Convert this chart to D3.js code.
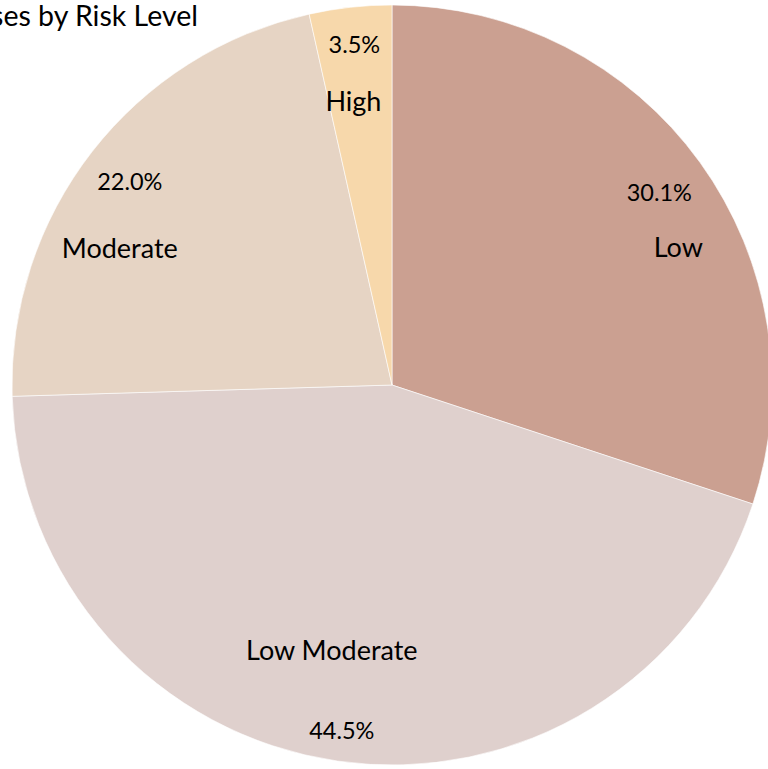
<!DOCTYPE html>
<html><head><meta charset="utf-8">
<script src="https://cdn.jsdelivr.net/npm/d3@7/dist/d3.min.js"></script>
<style>body{margin:0;background:#fff;overflow:hidden}svg{display:block}</style>
</head><body>
<script>
const categories = ["Low", "Low Moderate", "Moderate", "High"];
const values = [30.1, 44.5, 22.0, 3.5];
const pctLabels = ["30.1%", "44.5%", "22.0%", "3.5%"];
const colors = ["#CBA091", "#DFD0CD", "#E6D4C4", "#F7D8AB"];
const title = "Cases by Risk Level";

// layout (positions/styles kept apart from data)
const W = 768, H = 769, cx = 392, cy = 385, R = 380;
const pctRadius = [0.868, 0.918, 0.874, 0.903];
const catOffset = [[19, 55], [-10, -81], [-10, 66], [-1, 57]];

const svg = d3.select("body").append("svg").attr("width", W).attr("height", H);
const g = svg.append("g").attr("transform", `translate(${cx},${cy})`);

const pie = d3.pie().sort(null).value(d => d);
const arcs = pie(values);
const arc = d3.arc().innerRadius(0).outerRadius(R);

g.selectAll("path").data(arcs).join("path")
  .attr("d", arc)
  .attr("fill", (d, i) => colors[i])
  .attr("stroke", "#ffffff").attr("stroke-width", 1).attr("stroke-opacity", 0.6);

const font = "Lato, 'Open Sans', sans-serif";
arcs.forEach((d, i) => {
  const la = d3.arc().innerRadius(R * pctRadius[i]).outerRadius(R * pctRadius[i]);
  const [x, y] = la.centroid(d);
  g.append("text").attr("x", x).attr("y", y)
    .attr("text-anchor", "middle").attr("dominant-baseline", "central")
    .attr("font-family", font).attr("font-size", 23.5).attr("fill", "#000")
    .text(pctLabels[i]);
  g.append("text").attr("x", x + catOffset[i][0]).attr("y", y + catOffset[i][1])
    .attr("text-anchor", "middle").attr("dominant-baseline", "central")
    .attr("font-family", font).attr("font-size", 27).attr("fill", "#000")
    .text(categories[i]);
});

svg.append("text").attr("x", 198).attr("y", 26)
  .attr("text-anchor", "end")
  .attr("font-family", font).attr("font-size", 28.5).attr("fill", "#000")
  .text(title);
</script>
</body></html>
